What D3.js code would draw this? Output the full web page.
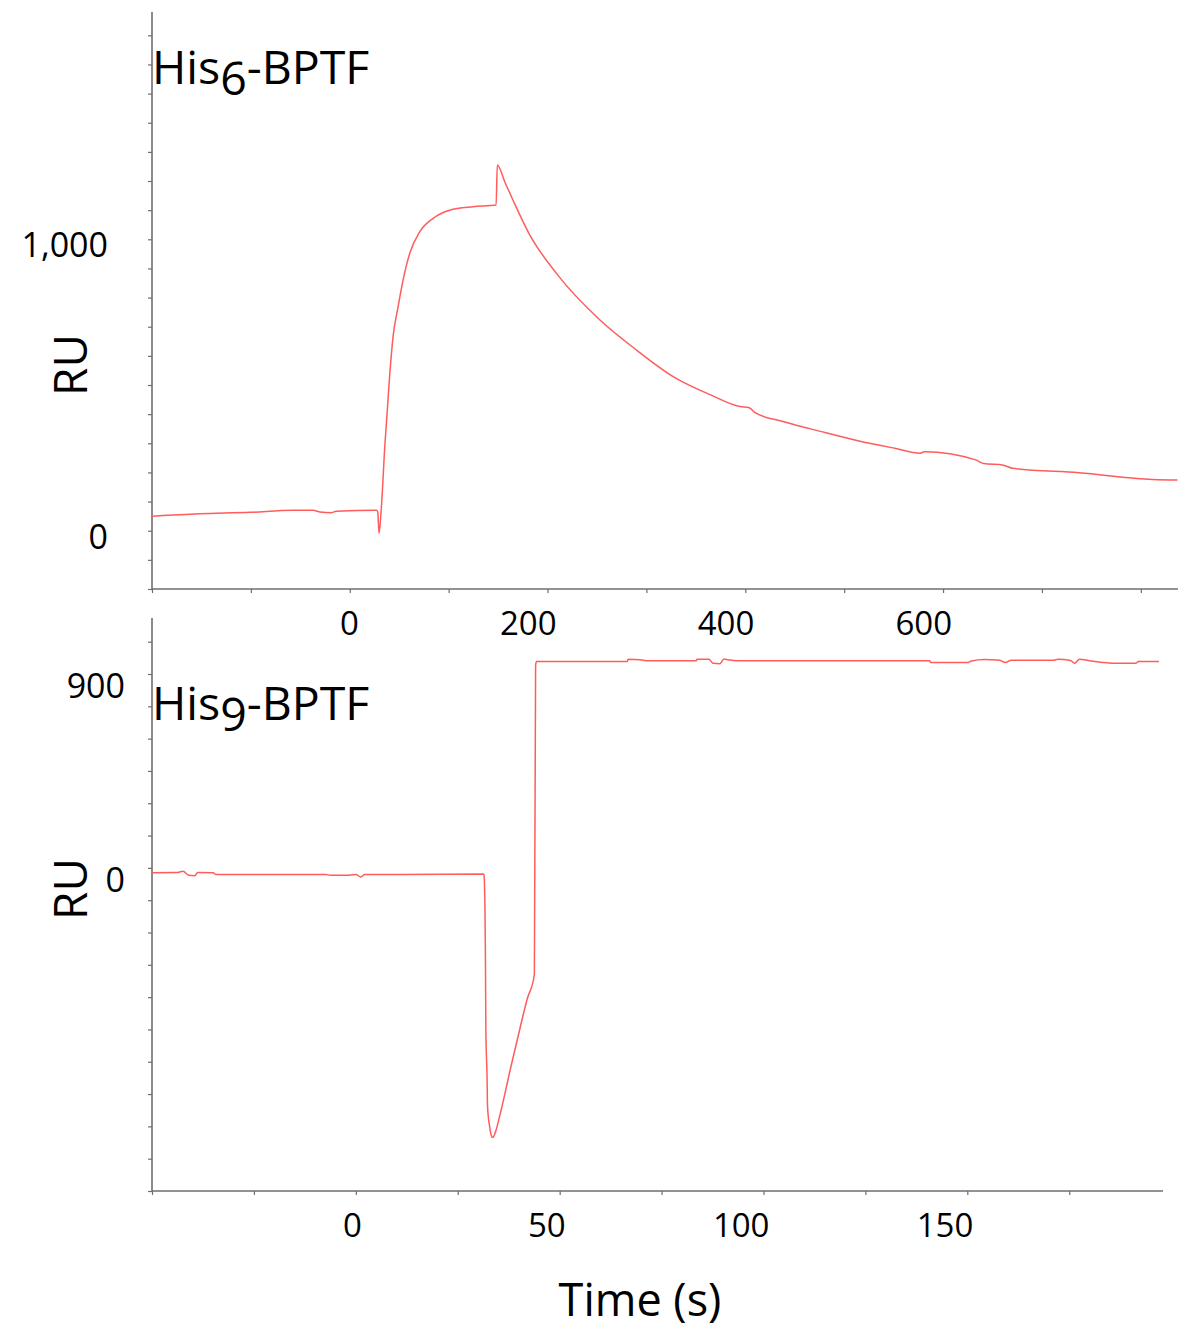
<!DOCTYPE html>
<html>
<head>
<meta charset="utf-8">
<script src="https://cdn.jsdelivr.net/npm/d3@7"></script>
<style>
  body { margin: 0; background: #fff; }
  text { font-family: "Open Sans", "Noto Sans", sans-serif; fill: #000; }
</style>
</head>
<body>
<svg id="chart" width="1178" height="1332"></svg>
<script>
// His6-BPTF sensorgram (top)
const topTime = [-200, -152, -101, -58, -37, -30, -18.5, -13.5, 27, 28.3, 29.6, 32, 35.4, 40.5, 43.8, 48.9, 53.9, 60.7, 70.8, 84.3, 101, 124.7, 148, 149.2, 157, 165, 182, 209, 253, 290, 327.5, 365, 394.5, 404, 409.5, 439, 477, 514, 551, 577, 581, 633, 641, 661, 670.5, 737.5, 812, 837];
const topRU = [50, 58, 63, 70, 70, 64, 62, 67, 70, 64, -9, 82, 288, 540, 666, 769, 860, 952, 1026, 1072, 1100, 1112, 1118, 1255, 1195, 1135, 1015, 883, 723, 620, 528, 466, 426, 422, 406, 374, 340, 309, 283, 266, 271, 243, 231, 225, 214, 199, 176, 174];
const topXLabels = [0, 200, 400, 600];
const topYLabels = [0, 1000];

// His9-BPTF sensorgram (bottom)
const botTime = [-50, -44, -42.4, -41, -39.5, -38.8, -35, -34.3, -7.4, -6.2, -2.5, 0, 1.2, 2.2, 11, 31.4, 31.5, 31.8, 31.9, 32.2, 32.3, 32.8, 33.2, 33.6, 34.2, 35.5, 37.9, 40.4, 42, 43.8, 44.1, 44.3, 66.6, 66.8, 69.7, 71.7, 73.4, 74.6, 83.5, 83.7, 86.6, 87.6, 89.3, 90.3, 91.3, 93.5, 140.8, 141, 150, 151, 154.2, 157.9, 159.3, 160.8, 171.1, 172.3, 175.3, 176.3, 177.5, 180, 186.5, 191.4, 191.9, 197];
const botRU = [-23, -22, -16, -34, -36, -22, -23, -31, -31, -34, -34, -31, -42, -31, -31, -28, -46, -440, -757, -981, -1105, -1198, -1240, -1252, -1229, -1136, -935, -734, -611, -495, 940, 958, 958, 969, 966, 961, 962, 961, 961, 969, 969, 950, 948, 970, 966, 961, 961, 953, 953, 960, 967, 964, 953, 964, 964, 969, 963, 950, 969, 962, 950, 950, 958, 958];
const botXLabels = [0, 50, 100, 150];
const botYLabels = [0, 900];

const svg = d3.select("#chart");
const lineColor = "#ff5c5c";
const axisColor = "#6e6e6e";

function drawPanel(opt) {
  const x = d3.scaleLinear().domain(opt.xDomain).range([opt.left, opt.right]);
  const y = d3.scaleLinear().domain(opt.yDomain).range([opt.bottom, opt.top]);
  const g = svg.append("g");

  // minor ticks
  g.append("g")
    .attr("transform", `translate(0,${opt.bottom})`)
    .call(d3.axisBottom(x).tickValues(opt.xTicks).tickSize(4).tickFormat(""))
    .call((a) => a.select(".domain").remove())
    .selectAll("line").attr("stroke", axisColor).attr("stroke-width", 1.2);
  g.append("g")
    .attr("transform", `translate(${opt.left},0)`)
    .call(d3.axisLeft(y).tickValues(opt.yTicks).tickSize(4).tickFormat(""))
    .call((a) => a.select(".domain").remove())
    .selectAll("line").attr("stroke", axisColor).attr("stroke-width", 1.2);

  // axis lines
  g.append("line")
    .attr("x1", opt.left).attr("x2", opt.right)
    .attr("y1", opt.bottom).attr("y2", opt.bottom)
    .attr("stroke", axisColor).attr("stroke-width", 1.6);
  g.append("line")
    .attr("x1", opt.left).attr("x2", opt.left)
    .attr("y1", opt.top).attr("y2", opt.bottom)
    .attr("stroke", axisColor).attr("stroke-width", 1.6);

  // tick labels
  g.selectAll(".xl")
    .data(opt.xLabels)
    .enter()
    .append("text")
    .attr("x", (d) => x(d) + opt.xLabelDx)
    .attr("y", opt.bottom + 46)
    .attr("text-anchor", "end")
    .attr("font-size", 33)
    .text((d) => d3.format(",")(d));
  g.selectAll(".yl")
    .data(opt.yLabels)
    .enter()
    .append("text")
    .attr("x", opt.yLabelX)
    .attr("y", (d) => y(d) + opt.yLabelDy)
    .attr("text-anchor", "end")
    .attr("font-size", 34)
    .text((d) => d3.format(",")(d));

  // RU label
  g.append("text")
    .attr("transform", `translate(87,${opt.ruY}) rotate(-90)`)
    .attr("text-anchor", "middle")
    .attr("font-size", 46)
    .text("RU");

  // title with subscript
  const t = g.append("text")
    .attr("x", 152)
    .attr("y", opt.titleY)
    .attr("font-size", 46.5);
  t.append("tspan").text("His");
  t.append("tspan").attr("dy", 11).text(opt.sub);
  t.append("tspan").attr("dy", -11).text("-BPTF");

  // sensorgram
  const pts = opt.time.map((d, i) => [d, opt.ru[i]]);
  g.append("path")
    .datum(pts)
    .attr("fill", "none")
    .attr("stroke", lineColor)
    .attr("stroke-width", 1.5)
    .attr("stroke-linejoin", "round")
    .attr("d", d3.line().curve(d3.curveMonotoneX).x((d) => x(d[0])).y((d) => y(d[1])));
}

drawPanel({
  time: topTime, ru: topRU,
  xDomain: [-200, 837.6], yDomain: [-200, 1780],
  left: 152, right: 1178, top: 12, bottom: 589,
  xTicks: d3.range(-200, 801, 100), yTicks: d3.range(-200, 1701, 100),
  xLabels: topXLabels, yLabels: topYLabels,
  xLabelDx: 9, yLabelX: 108, yLabelDy: 18,
  ruY: 365, titleY: 84, sub: "6",
});

drawPanel({
  time: botTime, ru: botRU,
  xDomain: [-50, 198], yDomain: [-1500, 1160],
  left: 152, right: 1163, top: 618, bottom: 1191,
  xTicks: d3.range(-50, 176, 25), yTicks: d3.range(-1500, 1051, 150),
  xLabels: botXLabels, yLabels: botYLabels,
  xLabelDx: 6, yLabelX: 125, yLabelDy: 24,
  ruY: 889, titleY: 720, sub: "9",
});

// shared x-axis title
svg.append("text")
  .attr("x", 640)
  .attr("y", 1316)
  .attr("text-anchor", "middle")
  .attr("font-size", 45)
  .text("Time (s)");
</script>
</body>
</html>
